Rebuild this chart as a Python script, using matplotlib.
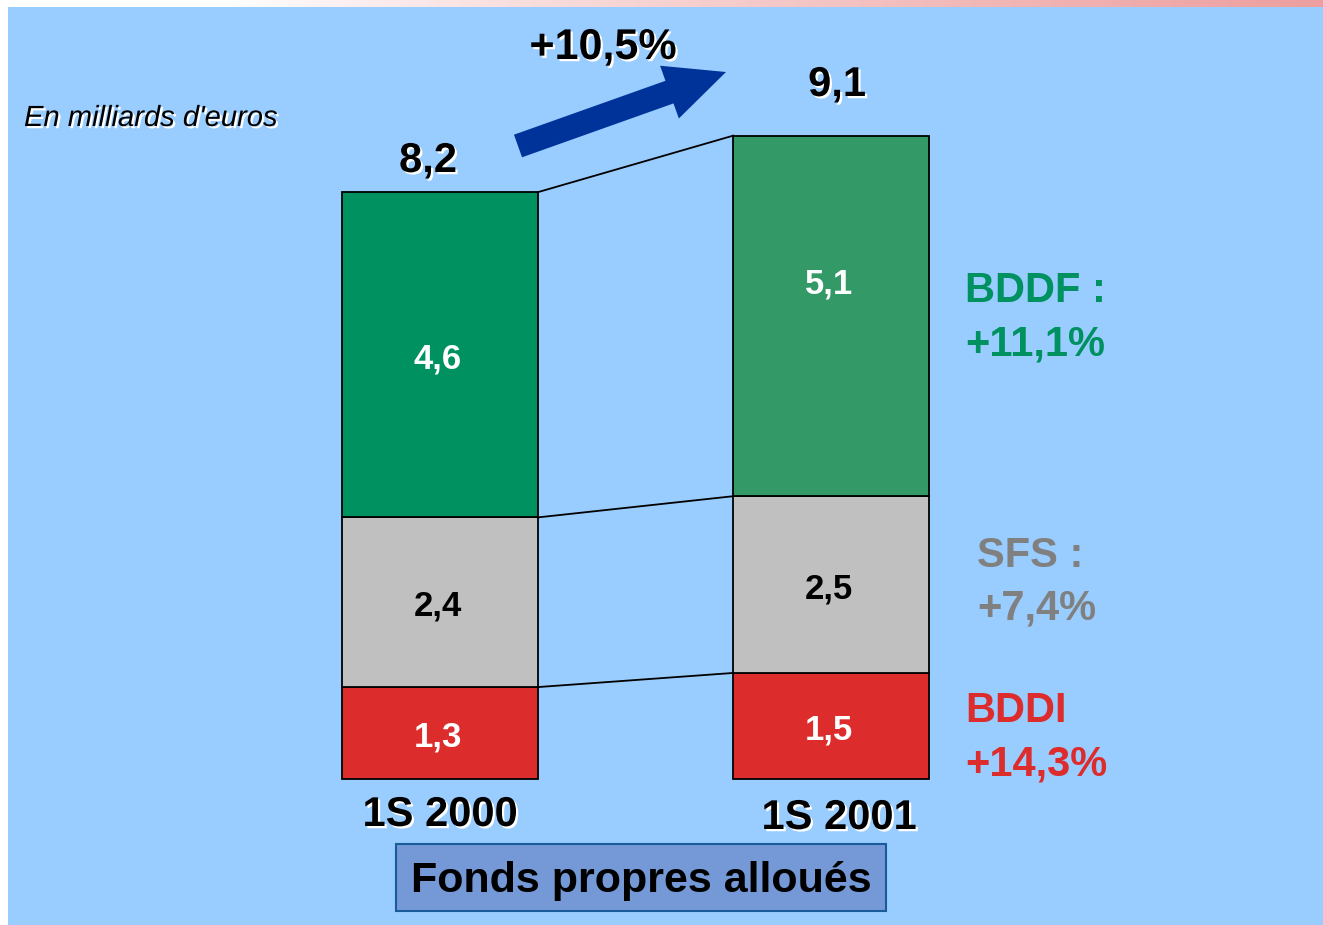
import matplotlib
matplotlib.use("Agg")
import matplotlib.pyplot as plt
import matplotlib.patheffects as pe
from matplotlib.patches import Rectangle, FancyArrow
import numpy as np

# ---------------- data ----------------
periods = ["1S 2000", "1S 2001"]
segments = ["BDDI", "SFS", "BDDF"]
bddi = [1.3, 1.5]
sfs = [2.4, 2.5]
bddf = [4.6, 5.1]
totals = ["8,2", "9,1"]
growth_total = "+10,5%"
growth_names = ["BDDI", "SFS :", "BDDF :"]
growth_pcts = ["+14,3%", "+7,4%", "+11,1%"]

seg_values = [bddi, sfs, bddf]
colors_bar1 = ["#DC2C2C", "#C0C0C0", "#009160"]
colors_bar2 = ["#DC2C2C", "#C0C0C0", "#339966"]
label_colors = ["white", "black", "white"]

W, H = 1323, 925
FONT = "Liberation Sans"

fig = plt.figure(figsize=(W / 100, H / 100), dpi=100, facecolor="white")

# background layer (pixel coords)
bg = fig.add_axes([0, 0, 1, 1], zorder=0)
bg.axis("off")
bg.add_patch(Rectangle((8, 7), W - 8, H - 7, facecolor="#99CCFF", edgecolor="none"))
grad = np.linspace(0, 1, 400)
grad = np.clip((grad - 0.18) / 0.82, 0, 1) ** 0.8
img = np.zeros((1, 400, 3))
img[0, :, 0] = 1.0 - 0.07 * grad
img[0, :, 1] = 1.0 - 0.38 * grad
img[0, :, 2] = 1.0 - 0.38 * grad
bg.imshow(img, extent=[0, W, 7, 0], aspect="auto", zorder=1)
bg.set_xlim(0, W)
bg.set_ylim(H, 0)

# data layer
ax = fig.add_axes([0, 0, 1, 1], zorder=1)
ax.patch.set_alpha(0)
ax.axis("off")
px_per_unit_y = 70.7
px_per_unit_x = 391.0
base_px = 779
c1_px = 440
ax.set_ylim(-(H - base_px) / px_per_unit_y, base_px / px_per_unit_y)
ax.set_xlim(-c1_px / px_per_unit_x, (W - c1_px) / px_per_unit_x)

x = np.arange(len(periods))
width = 0.5
bottom = np.zeros(len(periods))
tops = []
for i, vals in enumerate(seg_values):
    vals = np.array(vals)
    ax.bar(x, vals, width=width, bottom=bottom,
           color=[colors_bar1[i], colors_bar2[i]],
           edgecolor="black", linewidth=1.3, zorder=2)
    for j in range(len(periods)):
        frac = 0.6 if (i == 2 and j == 1) else 0.5
        yc = bottom[j] + vals[j] * frac - 0.06
        ax.text(x[j] - 0.005, yc, f"{vals[j]:.1f}".replace(".", ","),
                ha="center", va="center", fontsize=25, fontweight="bold",
                color=label_colors[i], family=FONT, zorder=3)
    bottom = bottom + vals
    tops.append(bottom.copy())

# connector lines between the two bars
for t in tops:
    ax.plot([x[0] + width / 2, x[1] - width / 2], [t[0], t[1]],
            color="black", linewidth=1.3, zorder=3)

# overlay layer (pixel coords)
ov = fig.add_axes([0, 0, 1, 1], zorder=2)
ov.patch.set_alpha(0)
ov.set_xlim(0, W)
ov.set_ylim(H, 0)
ov.axis("off")

shadow = [pe.SimplePatchShadow(offset=(1.6, -1.6), shadow_rgbFace="white", alpha=1.0),
          pe.Normal()]

ov.text(24, 118, "En milliards d'euros", ha="left", va="center", fontsize=21,
        style="italic", family=FONT, color="black", path_effects=shadow)

ov.text(603, 48, growth_total, ha="center", va="center", fontsize=31,
        fontweight="bold", family=FONT, path_effects=shadow)
ov.text(428, 161, totals[0], ha="center", va="center", fontsize=30,
        fontweight="bold", family=FONT, path_effects=shadow)
ov.text(837, 85, totals[1], ha="center", va="center", fontsize=30,
        fontweight="bold", family=FONT, path_effects=shadow)
ov.text(440, 815, periods[0], ha="center", va="center", fontsize=30,
        fontweight="bold", family=FONT, path_effects=shadow)
ov.text(839, 818, periods[1], ha="center", va="center", fontsize=30,
        fontweight="bold", family=FONT, path_effects=shadow)

# arrow
tail = np.array([518.0, 146.0])
tip = np.array([726.0, 72.0])
d = tip - tail
ov.add_patch(FancyArrow(tail[0], tail[1], d[0], d[1], width=24, head_width=56,
                        head_length=60, length_includes_head=True,
                        facecolor="#003399", edgecolor="none"))

# growth labels on the right
lab_colors = ["#DC2C2C", "#808080", "#009160"]
lab_pos = [(965, 711), (977, 556), (965, 291)]
line_gap = 53
for name, pct, col, (px, py) in zip(growth_names, growth_pcts, lab_colors, lab_pos):
    ov.text(px, py, name, ha="left", va="center", fontsize=30, fontweight="bold",
            color=col, family=FONT)
    ov.text(px, py + line_gap, pct, ha="left", va="center", fontsize=30,
            fontweight="bold", color=col, family=FONT)

# title box
ov.add_patch(Rectangle((396, 844), 490, 67, facecolor="#7499D6",
                       edgecolor="#1A5C9A", linewidth=1.5))
ov.text(641, 881, "Fonds propres alloués", ha="center", va="center",
        fontsize=31, fontweight="bold", family=FONT, color="black")

fig.savefig("out.png", dpi=100, facecolor="white")
